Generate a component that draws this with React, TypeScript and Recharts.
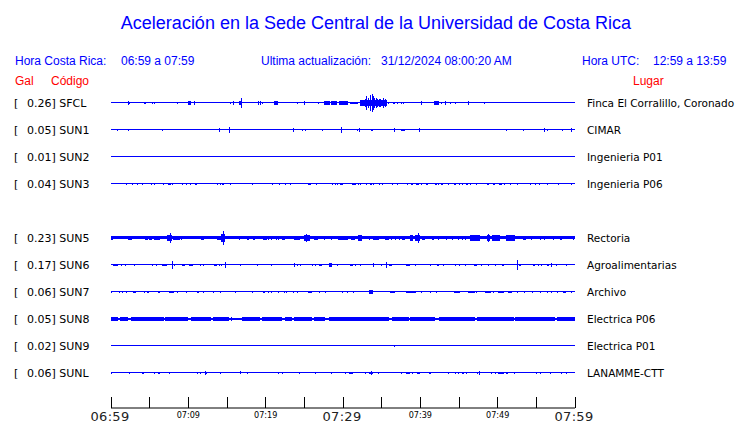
import React from 'react';
import { ComposedChart, XAxis, YAxis, Scatter, ErrorBar, ReferenceLine, ReferenceArea } from 'recharts';

// stations, top to bottom (slot 4 has no station)
const codes = ['SFCL', 'SUN1', 'SUN2', 'SUN3', 'SUN5', 'SUN6', 'SUN7', 'SUN8', 'SUN9', 'SUNL'];
const slots = [0, 1, 2, 3, 5, 6, 7, 8, 9, 10];
const peaks = ['0.26', '0.05', '0.01', '0.04', '0.23', '0.17', '0.06', '0.05', '0.02', '0.06'];
const places = [
  'Finca El Corralillo, Coronado', 'CIMAR', 'Ingenieria P01', 'Ingenieria P06',
  'Rectoria', 'Agroalimentarias', 'Archivo', 'Electrica P06', 'Electrica P01', 'LANAMME-CTT',
];

// minutes after 06:59
const timeTicks = [0, 5, 10, 15, 20, 25, 30, 35, 40, 45, 50, 55, 60];
const majorTicks = [0, 30, 60];
const majorLabels = ['06:59', '07:29', '07:59'];
const minorTicks = [10, 20, 40, 50];
const minorLabels = ['07:09', '07:19', '07:39', '07:49'];

// single peaks: [minute, amplitude]
const spikesSFCL = [
  [2.3, 0.6], [4.3, 0.5], [4.4, 0.5], [5.4, 0.5], [5.6, 0.5], [8.6, 0.4], [10.8, 0.6], [15.5, 0.5],
  [15.8, 0.6], [16.9, 1.8], [19.1, 0.6], [19.3, 0.6], [19.6, 0.5], [24.1, 0.4], [25.0, 0.6], [26.8, 0.5],
  [32.3, 0.8], [32.6, 1.2], [32.9, 1.4], [33.1, 2.5], [33.3, 1.9], [33.5, 2.6], [33.6, 3.0], [33.8, 3.3],
  [33.9, 2.7], [34.1, 2.0], [34.3, 1.7], [34.5, 1.4], [34.7, 1.5], [34.9, 1.3], [35.1, 1.2], [35.3, 1.7],
  [35.5, 1.5], [35.9, 0.5], [36.5, 0.5], [36.7, 0.5], [37.0, 0.5], [37.5, 0.4], [37.8, 0.4], [40.1, 0.6],
  [42.8, 0.5], [43.2, 0.6], [43.9, 0.5], [44.5, 0.4], [46.2, 0.6], [48.3, 0.4],
];
const burstsSFCL = [
  [2.2, 2.5, 0.5], [10.0, 10.3, 0.6], [16.5, 17.0, 0.9], [21.1, 21.6, 0.6], [27.6, 28.3, 0.6],
  [28.5, 29.2, 0.6], [29.5, 30.7, 0.6], [30.9, 32.0, 0.5], [32.2, 35.7, 1.0], [41.8, 42.4, 0.6],
];
const spikesSUN1 = [
  [0.8, 0.5], [2.3, 0.5], [6.6, 0.4], [14.0, 0.6], [15.3, 1.0], [23.6, 0.6], [24.8, 0.5], [25.1, 0.5],
  [27.3, 0.5], [29.8, 1.0], [31.9, 0.5], [32.1, 0.6], [36.7, 0.6], [39.9, 0.6], [51.2, 0.5], [53.3, 0.5],
  [56.1, 0.6], [56.4, 0.5], [58.4, 0.5], [59.5, 0.6],
];
const burstsSUN1 = [[33.6, 33.9, 0.5], [37.5, 38.0, 0.5]];
const spikesSUN3 = [
  [2.0, 0.4], [2.8, 0.4], [3.4, 0.5], [4.1, 0.4], [5.3, 0.5], [5.6, 0.5], [6.8, 0.4], [8.0, 0.5],
  [9.3, 0.5], [9.7, 0.5], [10.3, 0.5], [13.8, 0.5], [14.1, 0.5], [15.5, 0.5], [18.3, 0.5], [20.9, 0.5],
  [21.8, 0.5], [22.5, 0.5], [23.2, 0.4], [28.6, 0.5], [29.0, 0.5], [29.3, 0.5], [32.0, 0.5], [32.3, 0.5],
  [33.1, 0.4], [33.5, 0.4], [33.7, 0.4], [33.9, 0.5], [34.7, 0.4], [35.1, 0.5], [36.4, 0.5], [37.0, 0.4],
  [38.4, 0.5], [40.2, 0.5], [41.9, 0.5], [42.1, 0.5], [42.4, 0.5], [43.7, 0.5], [44.4, 0.5], [44.6, 0.5],
  [45.0, 0.4], [45.5, 0.5], [46.5, 0.5], [47.3, 0.5], [50.9, 0.5], [51.6, 0.5], [52.5, 0.5], [54.2, 0.5],
  [54.9, 0.4], [55.4, 0.4], [56.4, 0.5], [57.9, 0.4], [59.5, 0.4],
];
const burstsSUN3 = [
  [7.4, 7.7, 0.5], [10.8, 11.1, 0.5], [14.4, 14.6, 0.5], [25.5, 25.8, 0.5], [26.5, 26.7, 0.5],
  [29.6, 30.0, 0.5], [31.2, 31.7, 0.5], [38.8, 39.1, 0.5], [39.4, 39.8, 0.5], [40.7, 41.0, 0.5],
  [42.7, 42.9, 0.5], [45.9, 46.2, 0.5], [48.6, 48.9, 0.5], [49.4, 49.7, 0.5], [50.2, 50.5, 0.5],
];
const spikesSUN5 = [
  [7.65, 2.0], [9.15, 0.6], [12.7, 0.5], [14.5, 2.7], [16.6, 0.6], [20.4, 0.6], [20.8, 0.6], [21.4, 0.6],
  [21.7, 0.6], [25.3, 1.5], [27.6, 0.6], [28.5, 0.6], [33.4, 0.6], [36.3, 0.6], [36.75, 0.6], [37.3, 0.6],
  [39.8, 1.7], [42.3, 0.6], [43.4, 0.6], [44.1, 0.6], [44.9, 0.6], [45.5, 0.6], [45.8, 0.6], [48.8, 1.6],
  [54.4, 0.6], [55.5, 0.6], [56.1, 0.6], [57.2, 0.6], [59.8, 0.6],
];
const burstsSUN5 = [
  [0, 0.2, 0.6], [2.15, 2.7, 0.85], [4.4, 4.75, 0.6], [4.9, 5.35, 0.75], [5.5, 6.35, 0.85], [6.5, 6.65, 0.5],
  [7.2, 7.85, 1.0], [8.05, 8.9, 0.85], [11.7, 12.05, 0.85], [13.7, 14.2, 0.85], [14.2, 14.75, 1.4],
  [17.6, 17.9, 0.85], [18.3, 18.6, 0.75], [19.7, 20.15, 0.85], [22.1, 22.5, 0.85], [23.6, 24.45, 0.85],
  [24.9, 25.75, 1.0], [26.2, 26.8, 0.75], [29.4, 30.2, 0.85], [30.3, 30.7, 0.75], [31.0, 31.55, 0.85],
  [32.0, 32.4, 1.1], [33.9, 34.7, 0.75], [35.45, 35.9, 0.75], [37.6, 38.0, 0.85], [38.7, 39.0, 1.0],
  [39.3, 40.0, 1.2], [40.2, 40.65, 0.75], [41.5, 41.8, 0.75], [46.45, 47.75, 1.0], [48.6, 49.0, 1.2],
  [49.25, 50.3, 1.0], [51.1, 52.3, 1.0], [53.3, 53.7, 0.6], [58.0, 58.3, 0.85],
];
const spikesSUN6 = [
  [1.3, 0.4], [1.9, 0.4], [3.0, 0.4], [5.4, 0.4], [5.9, 0.4], [7.95, 1.5], [8.2, 0.5], [11.6, 0.4],
  [11.9, 0.4], [14.0, 0.4], [14.3, 0.4], [14.85, 1.25], [16.7, 0.4], [19.0, 0.4], [20.7, 0.5], [23.7, 0.75],
  [24.1, 0.4], [24.5, 0.4], [26.0, 0.4], [26.4, 0.4], [29.3, 0.4], [31.6, 0.4], [32.2, 0.4], [33.9, 0.6],
  [35.0, 0.4], [35.6, 1.1], [41.3, 0.4], [43.0, 0.4], [44.5, 0.4], [45.1, 0.4], [45.8, 0.4], [47.9, 0.4],
  [48.8, 0.4], [49.7, 0.4], [52.5, 1.9], [55.3, 0.4], [55.7, 0.4], [56.9, 0.6], [57.6, 0.4], [58.9, 0.4],
];
const burstsSUN6 = [
  [0.3, 0.9, 0.35], [6.55, 7.2, 0.4], [9.2, 9.55, 0.4], [10.1, 10.6, 0.4], [13.35, 13.7, 0.5],
  [26.9, 27.3, 0.4], [28.2, 28.6, 0.6], [30.9, 31.35, 0.4], [35.9, 36.4, 0.4], [38.2, 38.7, 0.4],
  [39.3, 39.5, 0.4], [42.1, 42.4, 0.4], [46.9, 47.3, 0.4], [50.5, 50.8, 0.5], [52.7, 53.0, 0.4],
  [54.6, 54.85, 0.4], [56.4, 56.7, 0.5],
];
const spikesSUN7 = [
  [0.1, 0.4], [1.1, 0.4], [4.3, 0.4], [8.6, 0.4], [9.7, 0.4], [12.0, 0.4], [13.2, 0.4], [14.2, 0.3],
  [16.1, 0.4], [18.3, 0.4], [20.4, 0.4], [20.7, 0.4], [21.7, 0.4], [22.4, 0.4], [22.7, 0.4], [23.6, 0.4],
  [24.1, 0.4], [26.9, 0.4], [27.7, 0.3], [29.9, 0.4], [30.6, 0.3], [31.3, 0.4], [40.2, 0.4], [41.3, 0.4],
  [42.1, 0.3], [47.3, 0.4], [49.5, 0.4], [52.5, 0.4], [53.5, 0.4], [55.5, 0.4], [56.4, 0.4], [57.0, 0.4],
  [57.7, 0.4], [59.6, 0.4],
];
const burstsSUN7 = [
  [1.4, 1.6, 0.4], [1.9, 2.1, 0.4], [2.9, 3.2, 0.45], [4.7, 4.9, 0.4], [6.1, 6.4, 0.45], [7.5, 8.1, 0.45],
  [11.1, 11.4, 0.45], [19.7, 19.9, 0.4], [25.5, 26.0, 0.45], [33.3, 33.9, 0.6], [36.1, 36.7, 0.45],
  [38.2, 39.5, 0.45], [44.3, 45.1, 0.45], [46.2, 47.1, 0.45], [48.4, 49.2, 0.45], [50.1, 50.8, 0.45],
  [51.4, 51.8, 0.45], [54.4, 54.6, 0.4], [58.5, 58.9, 0.45],
];
const spikesSUN8 = [
  [0.2, 0.7], [3.2, 0.7], [9.0, 0.7], [15.6, 0.6], [16.3, 0.5], [24.0, 0.7], [33.4, 0.7], [35.6, 0.6],
  [40.1, 0.6], [48.0, 0.6], [55.2, 0.6], [59.6, 0.7],
];
const burstsSUN8 = [
  [0.0, 0.95, 0.6], [1.2, 2.2, 0.6], [2.6, 6.8, 0.6], [7.0, 10.0, 0.6], [10.3, 12.9, 0.6],
  [13.2, 15.2, 0.6], [17.0, 19.3, 0.6], [19.5, 22.1, 0.6], [22.5, 23.4, 0.6], [23.6, 26.0, 0.6],
  [26.2, 27.7, 0.6], [28.2, 30.3, 0.6], [30.3, 36.0, 0.6], [36.3, 38.5, 0.6], [38.7, 41.9, 0.6],
  [42.4, 47.1, 0.6], [47.3, 52.1, 0.6], [52.2, 57.4, 0.6], [57.7, 60.0, 0.6],
];
const spikesSUN9 = [[36.7, 0.4]];
const spikesSUNL = [
  [0.1, 0.3], [2.4, 0.45], [5.6, 0.4], [7.5, 0.45], [11.2, 0.4], [11.6, 0.4], [12.2, 0.7], [14.1, 0.3],
  [16.8, 0.55], [17.7, 0.4], [21.6, 0.4], [22.2, 0.4], [24.4, 0.4], [26.5, 0.4], [28.5, 0.45], [30.3, 0.3],
  [32.9, 0.3], [33.7, 0.75], [34.6, 0.4], [37.5, 0.3], [39.0, 0.4], [43.6, 0.3], [44.5, 0.4], [44.9, 0.4],
  [46.0, 0.4], [47.4, 0.3], [47.7, 0.75], [49.2, 0.4], [49.7, 0.4], [52.2, 0.4], [55.0, 0.3], [55.5, 0.3],
  [56.8, 0.45], [58.3, 0.4], [58.9, 0.3],
];
const burstsSUNL = [
  [4.05, 4.3, 0.5], [6.1, 6.4, 0.4], [12.2, 12.4, 0.4], [30.8, 31.3, 0.4], [33.4, 33.9, 0.5],
  [38.2, 38.7, 0.4], [39.6, 40.0, 0.4], [41.1, 41.4, 0.4], [45.4, 45.7, 0.4], [50.1, 50.8, 0.5],
  [51.1, 51.3, 0.4],
];

const spikeSets = [spikesSFCL, spikesSUN1, [], spikesSUN3, spikesSUN5, spikesSUN6, spikesSUN7, spikesSUN8, spikesSUN9, spikesSUNL];
const burstSets = [burstsSFCL, burstsSUN1, [], burstsSUN3, burstsSUN5, burstsSUN6, burstsSUN7, burstsSUN8, [], burstsSUNL];

const ROW = 10;
const BLUE = '#0000ff';
const baseWidth: Record<string, number> = { SUN5: 3, SUN8: 2 };

const spikeData = spikeSets.flatMap((set, i) =>
  set.map(([t, a]) => ({ t, y: slots[i] * ROW, err: a }))
);

const StationTick = (props: any) => {
  const i = slots.indexOf(props.payload.value / ROW);
  if (i < 0) return null;
  return (
    <g style={{ fontFamily: 'DejaVu Sans', fontSize: 11 }} fill="#000">
      <text x={14} y={props.y + 1} dominantBaseline="central">[</text>
      <text x={27} y={props.y + 1} dominantBaseline="central">{`${peaks[i]}] ${codes[i]}`}</text>
    </g>
  );
};

const PlaceTick = (props: any) => {
  const i = slots.indexOf(props.payload.value / ROW);
  if (i < 0) return null;
  return (
    <text x={587} y={props.y + 0.5} dominantBaseline="central" fill="#000" style={{ fontFamily: 'DejaVu Sans', fontSize: 10.5 }}>
      {places[i]}
    </text>
  );
};

const TimeTick = (props: any) => {
  const { x, y, payload } = props;
  const mj = majorTicks.indexOf(payload.value);
  const mn = minorTicks.indexOf(payload.value);
  return (
    <g>
      <line x1={x} x2={x} y1={y - 11} y2={y} stroke="#000" strokeWidth={1} shapeRendering="crispEdges" />
      {mj >= 0 && (
        <text x={x - 1} y={y + 13} textAnchor="middle" fill="#222" style={{ fontFamily: 'DejaVu Sans', fontSize: 13, letterSpacing: 0.3 }}>
          {majorLabels[mj]}
        </text>
      )}
      {mn >= 0 && (
        <text x={x} y={y + 10} textAnchor="middle" fill="#000" style={{ fontFamily: 'DejaVu Sans Condensed', fontSize: 9 }}>
          {minorLabels[mn]}
        </text>
      )}
    </g>
  );
};

const txt: React.CSSProperties = {
  position: 'absolute', fontFamily: 'Liberation Sans, Arial, sans-serif', fontSize: 12, lineHeight: '14px',
  color: BLUE, whiteSpace: 'nowrap',
};

export default function App() {
  return (
    <div style={{ position: 'absolute', left: 0, top: 0, width: 740, height: 423, background: '#fff' }}>
      <style>{'.recharts-errorBar line, .recharts-reference-area-rect, .recharts-reference-line-line { shape-rendering: crispEdges; }'}</style>
      <div style={{ ...txt, left: 6, width: 740, top: 12, fontSize: 18, lineHeight: '22px', textAlign: 'center' }}>
        Aceleración en la Sede Central de la Universidad de Costa Rica
      </div>
      <div style={{ ...txt, left: 15, top: 54 }}>Hora Costa Rica:</div>
      <div style={{ ...txt, left: 121, top: 54 }}>06:59 a 07:59</div>
      <div style={{ ...txt, left: 261, top: 54 }}>Ultima actualización:</div>
      <div style={{ ...txt, left: 381, top: 54 }}>31/12/2024 08:00:20 AM</div>
      <div style={{ ...txt, left: 582, top: 54 }}>Hora UTC:</div>
      <div style={{ ...txt, left: 653, top: 54 }}>12:59 a 13:59</div>
      <div style={{ ...txt, left: 15, top: 74, color: '#ff0000' }}>Gal</div>
      <div style={{ ...txt, left: 51, top: 74, color: '#ff0000' }}>Código</div>
      <div style={{ ...txt, left: 633, top: 74, color: '#ff0000' }}>Lugar</div>
      <div style={{ position: 'absolute', left: 0, top: 0 }}>
        <ComposedChart width={740} height={423} margin={{ top: 89.5, right: 0, bottom: 0, left: 0 }}>
          <XAxis
            type="number"
            dataKey="t"
            domain={[0, 60]}
            ticks={timeTicks}
            interval={0}
            height={15}
            allowDataOverflow
            axisLine={{ stroke: '#000' }}
            tickLine={false}
            tickSize={0}
            tickMargin={0}
            tick={<TimeTick />}
          />
          <YAxis
            yAxisId="left"
            type="number"
            dataKey="y"
            domain={[-5, 113]}
            reversed
            allowDataOverflow
            width={111}
            ticks={slots.map(s => s * ROW)}
            interval={0}
            axisLine={false}
            tickLine={false}
            tick={<StationTick />}
          />
          <YAxis
            yAxisId="right"
            orientation="right"
            type="number"
            domain={[-5, 113]}
            reversed
            allowDataOverflow
            width={165}
            ticks={slots.map(s => s * ROW)}
            interval={0}
            axisLine={false}
            tickLine={false}
            tick={<PlaceTick />}
          />
          {codes.map((c, i) => (
            <ReferenceLine
              key={'b' + c}
              yAxisId="right"
              y={slots[i] * ROW}
              stroke={BLUE}
              strokeWidth={baseWidth[c] ?? 1}
            />
          ))}
          {burstSets.flatMap((set, i) =>
            set.map(([t1, t2, a], k) => (
              <ReferenceArea
                key={`a${i}-${k}`}
                yAxisId="left"
                x1={t1}
                x2={t2}
                y1={slots[i] * ROW - a}
                y2={slots[i] * ROW + a}
                fill={BLUE}
                fillOpacity={1}
                stroke="none"
              />
            ))
          )}
          <Scatter
            yAxisId="left"
            data={spikeData}
            dataKey="y"
            isAnimationActive={false}
            shape={() => <g />}
            legendType="none"
          >
            <ErrorBar dataKey="err" direction="y" width={0} stroke={BLUE} strokeWidth={1} isAnimationActive={false} />
          </Scatter>
        </ComposedChart>
      </div>
    </div>
  );
}
